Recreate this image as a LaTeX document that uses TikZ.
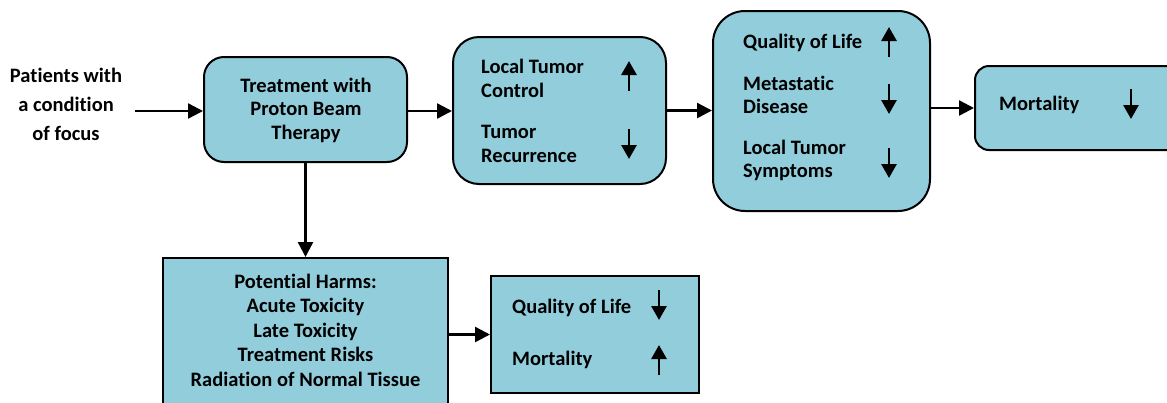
\documentclass[tikz,border=0pt]{standalone}
\usepackage{fontspec}
\setmainfont{Carlito}[RawFeature={-liga;-dlig;-clig;-calt}]
\usetikzlibrary{arrows.meta}
\definecolor{boxfill}{RGB}{146,205,220}
\tikzset{
  box/.style={draw=black, line width=2pt, fill=boxfill, inner sep=0pt},
  txt/.style={inner sep=0pt, font=\fontsize{20.5}{24.5}\selectfont\bfseries},
  conn/.style={line width=2.4pt, -{Triangle[length=15pt,width=15pt]}},
  updown/.style={line width=2.8pt, -{Triangle[length=14pt,width=15pt]}},
}
\begin{document}
\begin{tikzpicture}[x=1pt,y=-1pt]
\useasboundingbox (0,0) rectangle (1167,402);
\clip (0,0) rectangle (1167,402);
% boxes
\node[box, rounded corners=20pt, minimum width=203pt, minimum height=105pt] (treat) at (305.5,109.5) {};
\node[box, rounded corners=26pt, minimum width=213pt, minimum height=147pt] (local) at (559.5,110.5) {};
\node[box, rounded corners=32pt, minimum width=217pt, minimum height=200pt] (qol) at (821.5,111) {};
\node[box, rounded corners=14pt, minimum width=220pt, minimum height=84pt] (mort) at (1085,108) {};
\node[box, minimum width=285pt, minimum height=170pt] (harms) at (305.5,343) {};
\node[box, minimum width=208pt, minimum height=117pt] (qol2) at (595,334.5) {};
% left text
\node[txt, anchor=base] (p1) at (66,82) {Patients with};
\node[txt, anchor=base] (p2) at (66,111) {a condition};
\node[txt, anchor=base] (p3) at (66,140) {of focus};
\coordinate (start) at (135,111);
% treatment text
\node[txt, anchor=base] (t1) at (306,92) {Treatment with};
\node[txt, anchor=base] (t2) at (306,115.5) {Proton Beam};
\node[txt, anchor=base] (t3) at (306,139) {Therapy};
% local box text
\node[txt, anchor=base west] (l1) at (481,73) {Local Tumor};
\node[txt, anchor=base west] (l2) at (481,97) {Control};
\node[txt, anchor=base west] (l3) at (481,138) {Tumor};
\node[txt, anchor=base west] (l4) at (481,162) {Recurrence};
\coordinate (la1) at (629,91); \coordinate (lb1) at (629,61);
\coordinate (la2) at (629,129); \coordinate (lb2) at (629,159);
% qol box text
\node[txt, anchor=base west] (q1) at (743,48) {Quality of Life};
\node[txt, anchor=base west] (q2) at (743,90) {Metastat\kern0pt ic};
\node[txt, anchor=base west] (q3) at (743,113) {Disease};
\node[txt, anchor=base west] (q4) at (743,154) {Local Tumor};
\node[txt, anchor=base west] (q5) at (743,177) {Symptoms};
\coordinate (qa1) at (889,57); \coordinate (qb1) at (889,27);
\coordinate (qa2) at (889,84); \coordinate (qb2) at (889,114);
\coordinate (qa3) at (889,148); \coordinate (qb3) at (889,178);
% mortality text
\node[txt, anchor=base west] (m1) at (999,110) {Mortality};
\coordinate (ma1) at (1131,89); \coordinate (mb1) at (1131,119);
% harms text
\node[txt, anchor=base] (h1) at (305.5,288) {Potent\kern0pt ial Harms:};
\node[txt, anchor=base] (h2) at (305.5,312.5) {Acute Toxicity};
\node[txt, anchor=base] (h3) at (305.5,337) {Late Toxicity};
\node[txt, anchor=base] (h4) at (305.5,361.5) {Treatment Risks};
\node[txt, anchor=base] (h5) at (305.5,386) {Radiat\kern0pt ion of Normal Tissue};
% qol2 text
\node[txt, anchor=base west] (r1) at (512,313) {Quality of Life};
\node[txt, anchor=base west] (r2) at (512,365) {Mortality};
\coordinate (ra1) at (659,290); \coordinate (rb1) at (659,320);
\coordinate (ra2) at (659,375); \coordinate (rb2) at (659,345);
% small arrows
\draw[updown] (la1) -- (lb1);
\draw[updown] (la2) -- (lb2);
\draw[updown] (qa1) -- (qb1);
\draw[updown] (qa2) -- (qb2);
\draw[updown] (qa3) -- (qb3);
\draw[updown] (ma1) -- (mb1);
\draw[updown] (ra1) -- (rb1);
\draw[updown] (ra2) -- (rb2);
% connectors
\draw[conn] (start) -- (start -| treat.west);
\draw[conn] (treat.east |- start) -- (start -| local.west);
\draw[conn] (local.east) -- (local.east -| qol.west);
\draw[conn] (qol.east |- mort.west) -- (mort.west);
\draw[conn] (treat.south) -- (harms.north);
\draw[conn] (harms.east |- qol2.west) -- (qol2.west);
\end{tikzpicture}
\end{document}
